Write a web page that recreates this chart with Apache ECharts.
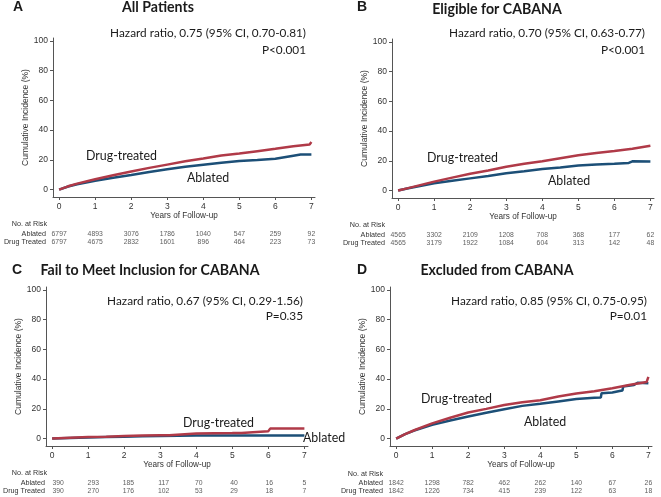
<!DOCTYPE html>
<html><head><meta charset="utf-8">
<script src="https://cdn.jsdelivr.net/npm/echarts@6/dist/echarts.min.js"></script>
<style>html,body{margin:0;padding:0;background:#fff}#c{width:661px;height:497px}</style>
</head><body><div id="c"></div>
<script>
// ---------- DATA ----------
const years = [0, 1, 2, 3, 4, 5, 6, 7];
const yTicks = [0, 20, 40, 60, 80, 100];

// Panel A: All Patients
const aDrugT = [0, 0.25, 0.5, 1, 1.5, 2, 2.5, 3, 3.5, 4, 4.5, 5, 5.5, 6, 6.5, 6.95, 7];
const aDrugY = [0, 2.2, 4, 7, 9.6, 12.1, 14.6, 16.8, 19, 20.9, 22.9, 24.2, 25.8, 27.4, 29.1, 30.4, 32];
const aAblT = [0, 0.25, 0.5, 1, 1.5, 2, 2.5, 3, 3.5, 4, 4.5, 5, 5.5, 6, 6.5, 6.7, 7];
const aAblY = [0, 2.1, 3.6, 6.0, 7.9, 9.8, 11.8, 13.6, 15.4, 16.7, 18, 19.2, 19.9, 20.7, 22.8, 23.6, 23.6];
const aAblRisk = [6797, 4893, 3076, 1786, 1040, 547, 259, 92];
const aDrugRisk = [6797, 4675, 2832, 1601, 896, 464, 223, 73];

// Panel B: Eligible for CABANA
const bDrugT = [0, 0.25, 0.5, 1, 1.5, 2, 2.5, 3, 3.5, 4, 4.5, 5, 5.5, 6, 6.5, 7];
const bDrugY = [0, 1.5, 3, 6, 8.7, 11.3, 13.5, 16, 18, 19.8, 21.8, 23.8, 25.3, 26.6, 28.2, 30.2];
const bAblT = [0, 0.25, 0.5, 1, 1.5, 2, 2.5, 3, 3.5, 4, 4.5, 5, 5.5, 6, 6.4, 6.5, 7];
const bAblY = [0, 1.4, 2.6, 4.9, 6.6, 8.2, 9.8, 11.6, 13, 14.5, 15.5, 16.8, 17.6, 18, 18.6, 19.7, 19.5];
const bAblRisk = [4565, 3302, 2109, 1208, 708, 368, 177, 62];
const bDrugRisk = [4565, 3179, 1922, 1084, 604, 313, 142, 48];

// Panel C: Fail to Meet Inclusion for CABANA
const cDrugT = [0, 0.5, 1, 1.5, 2, 2.5, 3, 3.25, 3.25, 4, 5, 5.25, 5.25, 6, 6.05, 6.05, 7];
const cDrugY = [0, 0.5, 1, 1.3, 1.7, 2, 2.2, 2.3, 3.1, 3.4, 3.7, 3.8, 5.0, 5.0, 5.0, 6.7, 6.7];
const cAblT = [0, 0.5, 1, 1.5, 2, 2.5, 3, 3.5, 4, 5, 6, 7];
const cAblY = [0, 0.4, 0.8, 1.1, 1.3, 1.5, 1.7, 1.9, 2.0, 2.0, 2.0, 2.0];
const cAblRisk = [390, 293, 185, 117, 70, 40, 16, 5];
const cDrugRisk = [390, 270, 176, 102, 53, 29, 18, 7];

// Panel D: Excluded from CABANA
const dDrugT = [0, 0.25, 0.5, 1, 1.5, 2, 2.5, 3, 3.5, 4, 4.5, 5, 5.5, 6, 6.5, 6.95, 7];
const dDrugY = [0, 3, 5.6, 10.2, 14, 17.5, 20, 22.6, 24.4, 25.8, 28.3, 30.3, 31.8, 33.9, 36.2, 38, 41.5];
const dAblT = [0, 0.25, 0.5, 1, 1.5, 2, 2.5, 3, 3.5, 4, 4.5, 5, 5.5, 5.68, 5.7, 6, 6.2, 6.28, 6.3, 6.6, 6.7, 7];
const dAblY = [0, 3, 5.4, 9.2, 12.2, 14.8, 17.4, 19.7, 22, 23.4, 25, 26.6, 27.4, 27.6, 30.5, 31, 32, 32.4, 35, 36, 37.6, 37.2];
const dAblRisk = [1842, 1298, 782, 462, 262, 140, 67, 26];
const dDrugRisk = [1842, 1226, 734, 415, 239, 122, 63, 18];

const letters = ['A', 'B', 'C', 'D'];
const titles = ['All Patients', 'Eligible for CABANA', 'Fail to Meet Inclusion for CABANA', 'Excluded from CABANA'];
const hazards = ['Hazard ratio, 0.75 (95% CI, 0.70-0.81)', 'Hazard ratio, 0.70 (95% CI, 0.63-0.77)',
                 'Hazard ratio, 0.67 (95% CI, 0.29-1.56)', 'Hazard ratio, 0.85 (95% CI, 0.75-0.95)'];
const pvals = ['P<0.001', 'P<0.001', 'P=0.35', 'P=0.01'];
const rowNames = ['Drug Treated', 'Ablated'];

// ---------- LAYOUT / STYLE ----------
const RED = '#b03a48', BLUE = '#1c4f77', AX = '#555', TXT = '#1a1a1a';
const SANS = '"Liberation Sans", Arial, sans-serif';
const HUM = 'Lato, "Open Sans", sans-serif';
const PW = 262, PH = 159;
const layout = [
  {left: 53, top: 38, letter: [13, 7], title: [158, 7], hr: [306, 33], p: [306, 50], drugLab: [86, 156], ablLab: [187, 178], risk: [47, 224]},
  {left: 392, top: 39, letter: [357, 7], title: [497, 9], hr: [645, 33], p: [645, 50], drugLab: [427, 157.5], ablLab: [548, 181], risk: [385, 225]},
  {left: 46, top: 287, letter: [12, 270], title: [150, 270], hr: [303, 301], p: [303, 316], drugLab: [183, 423], ablLab: [303, 438], risk: [47, 473]},
  {left: 390, top: 287, letter: [357, 270], title: [497, 270], hr: [647, 301], p: [647, 316], drugLab: [421, 399], ablLab: [524, 422], risk: [383, 474]}
];
const curves = [
  [aAblT, aAblY, aDrugT, aDrugY], [bAblT, bAblY, bDrugT, bDrugY],
  [cAblT, cAblY, cDrugT, cDrugY], [dAblT, dAblY, dDrugT, dDrugY]
];
const risks = [[aAblRisk, aDrugRisk], [bAblRisk, bDrugRisk], [cAblRisk, cDrugRisk], [dAblRisk, dDrugRisk]];

const cv = document.createElement('canvas').getContext('2d');
function fit(text, weight, family, width) {
  cv.font = weight + ' 100px ' + family;
  return 100 * width / cv.measureText(text).width;
}
const hrSize = fit(hazards[0], 'normal', HUM, 196);
const titleSize = fit(titles[2], 'bold', HUM, 219);
const labSize = fit('Drug-treated', 'normal', HUM, 71);

const zip = (t, y) => t.map((v, i) => [v, y[i]]);

const grid = [], xAxis = [], yAxis = [], series = [], graphic = [];
function txt(x, y, text, font, align, color) {
  graphic.push({type: 'text', x: x, y: y, silent: true,
    style: {text: text, font: font, fill: color || TXT, textAlign: align, textVerticalAlign: 'middle', align: align, verticalAlign: 'middle'}});
}

layout.forEach((L, k) => {
  grid.push({left: L.left, top: L.top, width: PW, height: PH, containLabel: false});
  xAxis.push({gridIndex: 2 * k, type: 'value', min: -0.17, max: 7.1,
    axisLine: {show: true, onZero: false, lineStyle: {color: AX, width: 1}},
    axisTick: {show: true, length: 3, customValues: years, lineStyle: {color: AX}},
    axisLabel: {customValues: years, fontSize: 8.5, color: '#333', margin: 5, fontFamily: SANS},
    splitLine: {show: false},
    name: 'Years of Follow-up', nameLocation: 'middle', nameGap: 13,
    nameTextStyle: {fontSize: 8.2, color: '#333', fontFamily: SANS}});
  yAxis.push({gridIndex: 2 * k, type: 'value', min: -5, max: 102,
    axisLine: {show: true, onZero: false, lineStyle: {color: AX, width: 1}},
    axisTick: {show: true, length: 3, customValues: yTicks, lineStyle: {color: AX}},
    axisLabel: {customValues: yTicks, fontSize: 8.5, color: '#333', margin: 5, fontFamily: SANS},
    splitLine: {show: false},
    name: 'Cumulative Incidence (%)', nameLocation: 'middle', nameGap: 20,
    nameTextStyle: {fontSize: 8.5, color: '#333', fontFamily: SANS}});
  const tTop = L.top + PH + 33;
  grid.push({left: L.left, top: tTop, width: PW, height: 16});
  xAxis.push({gridIndex: 2 * k + 1, type: 'value', min: -0.17, max: 7.1, show: false});
  yAxis.push({gridIndex: 2 * k + 1, type: 'category', data: rowNames,
    axisLine: {show: false}, axisTick: {show: false}, splitLine: {show: false},
    axisLabel: {interval: 0, hideOverlap: false, fontSize: 7.2, color: '#333', margin: 7, fontFamily: SANS}});

  const C = curves[k];
  series.push({type: 'line', xAxisIndex: 2 * k, yAxisIndex: 2 * k, data: zip(C[0], C[1]),
    showSymbol: false, silent: true, lineStyle: {color: BLUE, width: 2.5}, z: 2});
  series.push({type: 'line', xAxisIndex: 2 * k, yAxisIndex: 2 * k, data: zip(C[2], C[3]),
    showSymbol: false, silent: true, lineStyle: {color: RED, width: 2.5}, z: 3});
  const R = risks[k];
  [['Ablated', R[0]], ['Drug Treated', R[1]]].forEach(([row, vals]) => {
    series.push({type: 'scatter', xAxisIndex: 2 * k + 1, yAxisIndex: 2 * k + 1, symbolSize: 1, silent: true,
      itemStyle: {color: 'rgba(0,0,0,0)'},
      data: years.map((yr, i) => [yr, row, vals[i]]),
      label: {show: true, position: 'inside', formatter: p => String(p.value[2]), fontSize: 6.8, color: '#333', fontFamily: SANS}});
  });

  txt(L.letter[0], L.letter[1], letters[k], 'bold 14px ' + SANS, 'left');
  txt(L.title[0], L.title[1], titles[k], 'bold ' + titleSize.toFixed(2) + 'px ' + HUM, 'center');
  txt(L.hr[0], L.hr[1], hazards[k], hrSize.toFixed(2) + 'px ' + HUM, 'right');
  txt(L.p[0], L.p[1], pvals[k], hrSize.toFixed(2) + 'px ' + HUM, 'right');
  txt(L.drugLab[0], L.drugLab[1], 'Drug-treated', labSize.toFixed(2) + 'px ' + HUM, 'left');
  txt(L.ablLab[0], L.ablLab[1], 'Ablated', labSize.toFixed(2) + 'px ' + HUM, 'left');
  txt(L.risk[0], L.risk[1], 'No. at Risk', '7.2px ' + SANS, 'right', '#333');
});

const chart = echarts.init(document.getElementById('c'), null, {renderer: 'canvas'});
chart.setOption({animation: false, backgroundColor: '#fff', grid, xAxis, yAxis, series, graphic});
</script></body></html>
